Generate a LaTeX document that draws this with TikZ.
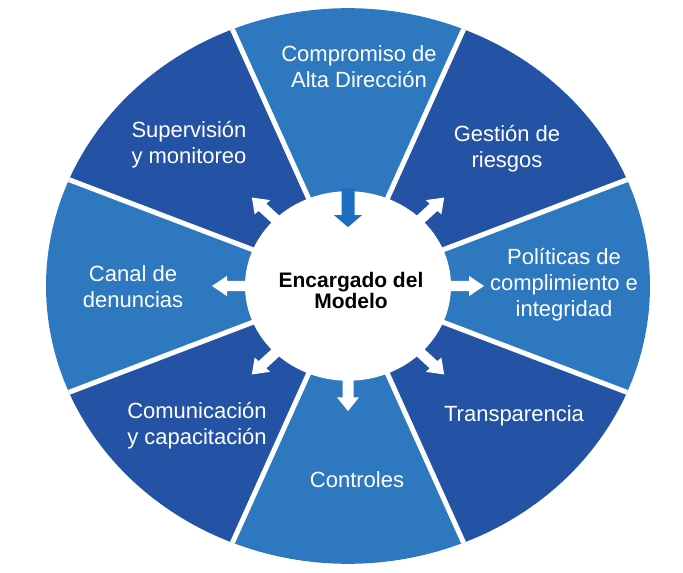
\documentclass[tikz,border=0pt]{standalone}
\usepackage{fontspec}
\setmainfont{Liberation Sans}
\definecolor{darkseg}{HTML}{2452A4}
\definecolor{lightseg}{HTML}{2E78C0}
\definecolor{pointer}{HTML}{1F6DC0}
\tikzset{
  seglabel/.style={text=white, align=center, inner sep=0pt, font=\fontsize{22}{26}\selectfont},
  hub/.style={text=black, align=center, inner sep=0pt, font=\bfseries\fontsize{21}{21}\selectfont},
  divider/.style={draw=white, line width=5pt},
  outarrow/.style={fill=white},
  inarrow/.style={fill=pointer},
}

\begin{document}
\begin{tikzpicture}[x=1pt, y=1pt]
\fill[white] (0,0) rectangle (683,573);
\useasboundingbox (0,0) rectangle (683,573);
\coordinate (hubc) at (348,287);

% wheel
\begin{scope}[shift={(hubc)}, yscale=0.92]
  \foreach \a/\c in {90/lightseg, 45/darkseg, 0/lightseg, -45/darkseg, -90/lightseg, -135/darkseg, 180/lightseg, 135/darkseg}
    \fill[\c] (0,0) -- (\a-22.5:302) arc[start angle=\a-22.5, end angle=\a+22.5, radius=302] -- cycle;
  \foreach \a in {22.5,67.5,...,337.5}
    \draw[divider] (0,0) -- (\a:302);
  % arrows out of the hub
  \foreach \a in {0,45,135,180,225,270,315}
    \fill[outarrow, rotate=\a] (92,-5.5) -- (121,-5.5) -- (121,-11) -- (136,0) -- (121,11) -- (121,5.5) -- (92,5.5) -- cycle;
  \fill[white] (0,0) circle[radius=103];
  \fill[inarrow, rotate=90] (106,-6.5) -- (77,-6.5) -- (77,-14) -- (64,0) -- (77,14) -- (77,6.5) -- (106,6.5) -- cycle;
\end{scope}

% labels
\node[hub] (encargado) at (351,283) {Encargado del\\Modelo};
\node[seglabel] (compromiso) at (359,506) {Compromiso de\\Alta Dirección};
\node[seglabel] (gestion) at (507,424) {Gestión de\\riesgos};
\node[seglabel] (politicas) at (564,288) {Políticas de\\complimiento e\\integridad};
\node[seglabel] (transparencia) at (514,157) {Transparencia};
\node[seglabel] (controles) at (357,93) {Controles};
\node[seglabel] (comunicacion) at (197,147.5) {Comunicación\\y capacitación};
\node[seglabel] (canal) at (133,286.5) {Canal de\\denuncias};
\node[seglabel] (supervision) at (189,428.5) {Supervisión\\y monitoreo};
\end{tikzpicture}
\end{document}
